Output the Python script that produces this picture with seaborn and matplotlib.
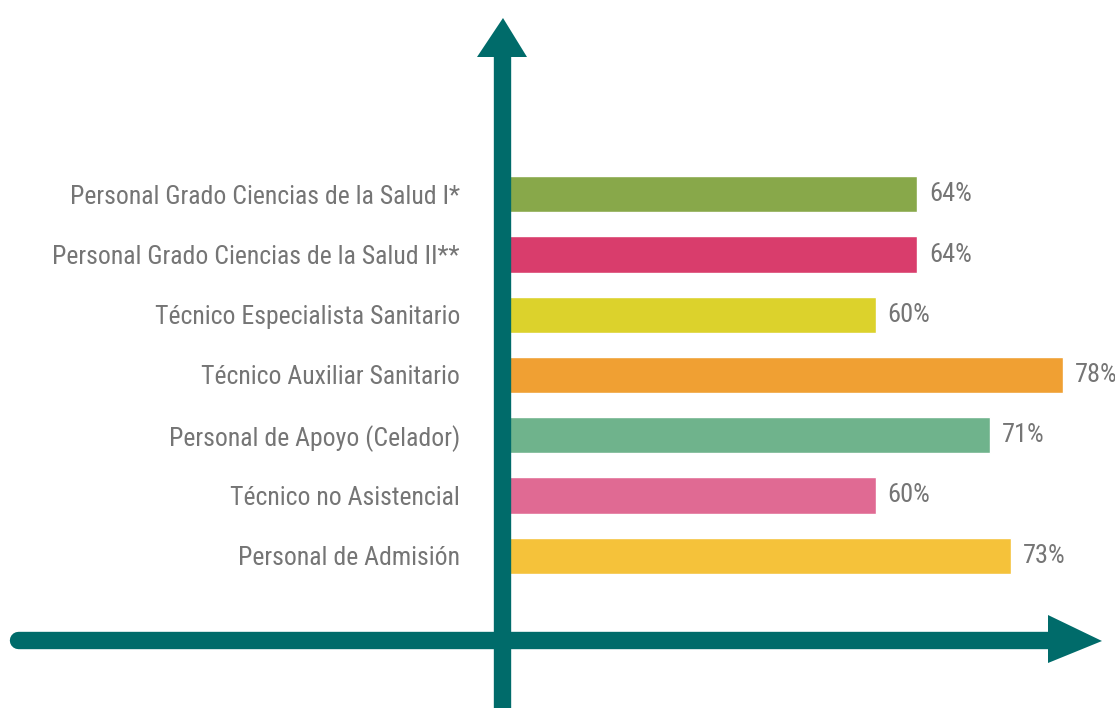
import matplotlib
matplotlib.use("Agg")
import matplotlib.pyplot as plt
import seaborn as sns
import pandas as pd
from matplotlib.patches import Polygon

# data
categorias = ['Personal Grado Ciencias de la Salud I*',
              'Personal Grado Ciencias de la Salud II**',
              'Técnico Especialista Sanitario',
              'Técnico Auxiliar Sanitario',
              'Personal de Apoyo (Celador)',
              'Técnico no Asistencial',
              'Personal de Admisión']
porcentajes = [64, 64, 60, 78, 71, 60, 73]
colores = ['#88a84a', '#d93d6c', '#dcd22c', '#f0a033',
           '#6fb38c', '#e06a93', '#f5c23a']

teal = '#006b6a'
gris = '#757575'

df = pd.DataFrame({'categoria': categorias, 'valor': porcentajes})

sns.set_style('white')
plt.rcParams['font.family'] = ['Roboto Condensed', 'Liberation Sans Narrow',
                               'DejaVu Sans']
plt.rcParams['font.stretch'] = 'condensed'

W, H = 1115, 708
fig = plt.figure(figsize=(W / 100, H / 100), dpi=100)

# bar axes placed in pixel terms of the reference
ax = fig.add_axes([510 / W, (H - 616) / H, 605 / W, 482 / H])
sns.barplot(data=df, y='categoria', x='valor', hue='categoria',
            palette=colores, orient='h', width=0.6, legend=False,
            saturation=1, ax=ax)
ax.set_xlim(24.8, 83.0)
ax.set_ylim(7, -1)
ax.set_xlabel('')
ax.set_ylabel('')
ax.set_xticks([])
sns.despine(ax=ax, left=True, bottom=True)
ax.tick_params(axis='y', length=0, pad=36, labelsize=18.5, labelcolor=gris)

for i, v in enumerate(porcentajes):
    ax.text(v + 1.1, i, f'{v}%', va='center', ha='left', fontsize=19,
            color=gris, clip_on=False)

# teal axes with arrowheads drawn over the whole figure
ov = fig.add_axes([0, 0, 1, 1], zorder=5)
ov.set_xlim(0, W)
ov.set_ylim(H, 0)
ov.axis('off')
ov.plot([18, 1055], [640, 640], color=teal, lw=12.5, solid_capstyle='round')
ov.plot([502, 502], [708, 50], color=teal, lw=12.5, solid_capstyle='butt')
ov.add_patch(Polygon([[477, 57], [527, 57], [503, 18]], closed=True,
                     color=teal, lw=0))
ov.add_patch(Polygon([[1048, 615], [1048, 663], [1102, 641]], closed=True,
                     color=teal, lw=0))

fig.savefig('out.png', dpi=100, facecolor='white')
